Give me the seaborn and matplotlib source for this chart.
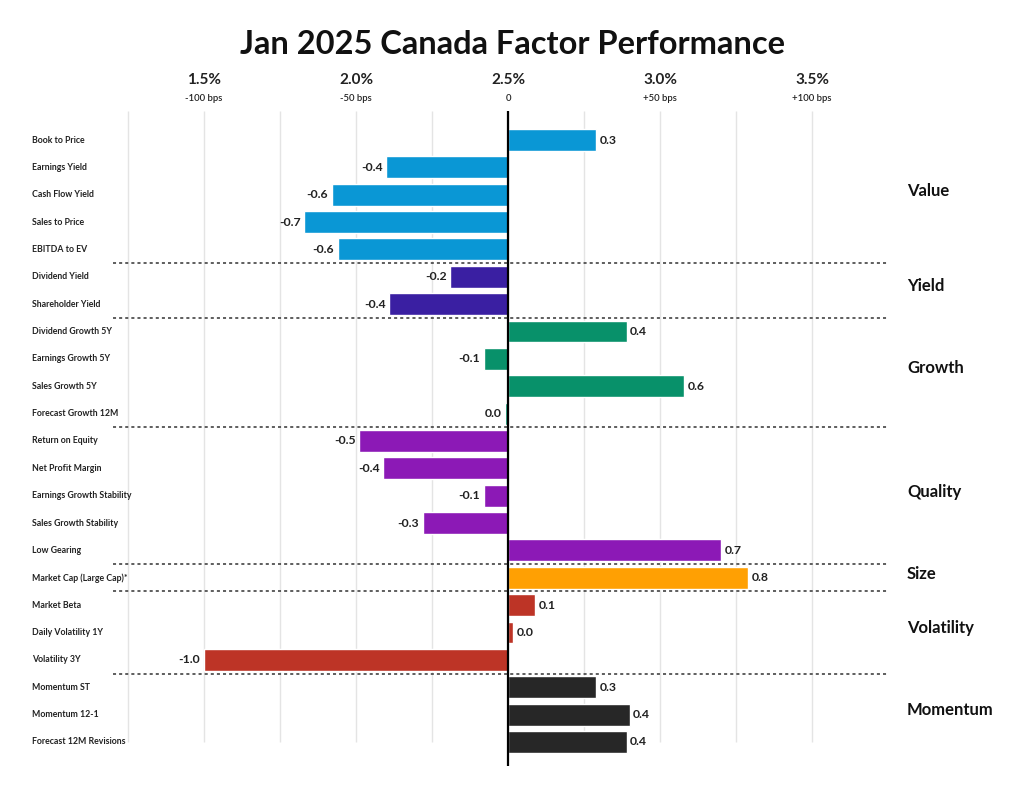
"""
Jan 2025 Canada factor performance - horizontal bar chart grouped by style.
"""

import matplotlib.pyplot as plt
import numpy as np
import pandas as pd
import seaborn as sns

FACTORS = [
    "Book to Price", "Earnings Yield", "Cash Flow Yield", "Sales to Price", "EBITDA to EV",
    "Dividend Yield", "Shareholder Yield",
    "Dividend Growth 5Y", "Earnings Growth 5Y", "Sales Growth 5Y", "Forecast Growth 12M",
    "Return on Equity", "Net Profit Margin", "Earnings Growth Stability",
    "Sales Growth Stability", "Low Gearing",
    "Market Cap (Large Cap)*",
    "Market Beta", "Daily Volatility 1Y", "Volatility 3Y",
    "Momentum ST", "Momentum 12-1", "Forecast 12M Revisions",
]
GROUPS = (["Value"] * 5 + ["Yield"] * 2 + ["Growth"] * 4 + ["Quality"] * 5
          + ["Size"] + ["Volatility"] * 3 + ["Momentum"] * 3)
# relative return vs 2.5% benchmark, in percentage points
RETURNS = [
    0.29, -0.40, -0.58, -0.67, -0.56,
    -0.19, -0.39,
    0.39, -0.08, 0.58, -0.01,
    -0.49, -0.41, -0.08, -0.28, 0.70,
    0.79,
    0.09, 0.016, -1.00,
    0.29, 0.40, 0.39,
]
LABELS = ["0.3", "-0.4", "-0.6", "-0.7", "-0.6",
          "-0.2", "-0.4",
          "0.4", "-0.1", "0.6", "0.0",
          "-0.5", "-0.4", "-0.1", "-0.3", "0.7",
          "0.8",
          "0.1", "0.0", "-1.0",
          "0.3", "0.4", "0.4"]

GROUP_NAMES = ["Value", "Yield", "Growth", "Quality", "Size", "Volatility", "Momentum"]
GROUP_COLORS = ["#0A97D5", "#3A1FA2", "#08916A", "#8C19B6", "#FFA003", "#BD3426", "#272727"]

TICK_VALUES = [-1.0, -0.5, 0.0, 0.5, 1.0]
TICK_PCT = ["1.5%", "2.0%", "2.5%", "3.0%", "3.5%"]
TICK_BPS = ["-100 bps", "-50 bps", "0", "+50 bps", "+100 bps"]

sns.set_style("white")
plt.rcParams["font.family"] = ["Lato", "DejaVu Sans"]

# pixel layout of the original: zero at x=508, 304 px per 1%, rows every 27.36 px from y=140
X0, XS = 508, 304
Y0, YS = 140, 27.36


def px_x(p):
    return (p - X0) / XS


def px_y(p):
    return (p - Y0) / YS


df = pd.DataFrame({"Factor": FACTORS, "Group": GROUPS, "Return": RETURNS, "Label": LABELS})

fig = plt.figure(figsize=(10.24, 7.94), dpi=100)
ax = fig.add_axes([0, 0, 1, 1])

# gridlines and zero line
ax.vlines(np.arange(-1.25, 1.01, 0.25), px_y(111), px_y(742), color="#e4e4e4", lw=1, zorder=0)

sns.barplot(data=df, x="Return", y="Factor", hue="Group", order=FACTORS,
            hue_order=GROUP_NAMES, palette=dict(zip(GROUP_NAMES, GROUP_COLORS)),
            dodge=False, legend=False, width=0.8, saturation=1, ax=ax, zorder=2)

ax.vlines(0, px_y(111), px_y(766), color="black", lw=1.6, zorder=3)

ax.set_xlim(px_x(0), px_x(1024))
ax.set_ylim(px_y(794), px_y(0))
ax.axis("off")

# value labels
for i, (v, lab) in enumerate(zip(RETURNS, LABELS)):
    if v >= 0:
        ax.text(v + 0.012, i, lab, ha="left", va="center", fontsize=8.8, fontweight="bold", color="#222")
    else:
        ax.text(v - 0.012, i, lab, ha="right", va="center", fontsize=8.8, fontweight="bold", color="#222")

# factor names on the left
for i, name in enumerate(FACTORS):
    ax.text(px_x(32), i, name, ha="left", va="center", fontsize=6.3, fontweight="bold", color="#222")

# top axis labels
for v, pct, bps in zip(TICK_VALUES, TICK_PCT, TICK_BPS):
    ax.text(v, px_y(80), pct, ha="center", va="center", fontsize=11, fontweight="bold", color="#222")
    ax.text(v, px_y(98), bps, ha="center", va="center", fontsize=6.8, fontweight="semibold", color="#222")

# group separators and group names
pos = 0
for g in GROUP_NAMES:
    n = GROUPS.count(g)
    mid = pos + (n - 1) / 2
    ax.text(px_x(907), mid - 0.15, g, ha="left", va="center", fontsize=12, fontweight="bold", color="#111")
    pos += n
    if pos < len(FACTORS):
        ax.hlines(pos - 0.5, px_x(113), px_x(887), color="#333", lw=1.1,
                  linestyles=(0, (2, 2)), zorder=4)

fig.text(0.5, 1 - 45 / 794, "Jan 2025 Canada Factor Performance", ha="center", va="center",
         fontsize=23.5, fontweight="bold", color="#111")

fig.savefig("out.png", dpi=100)
